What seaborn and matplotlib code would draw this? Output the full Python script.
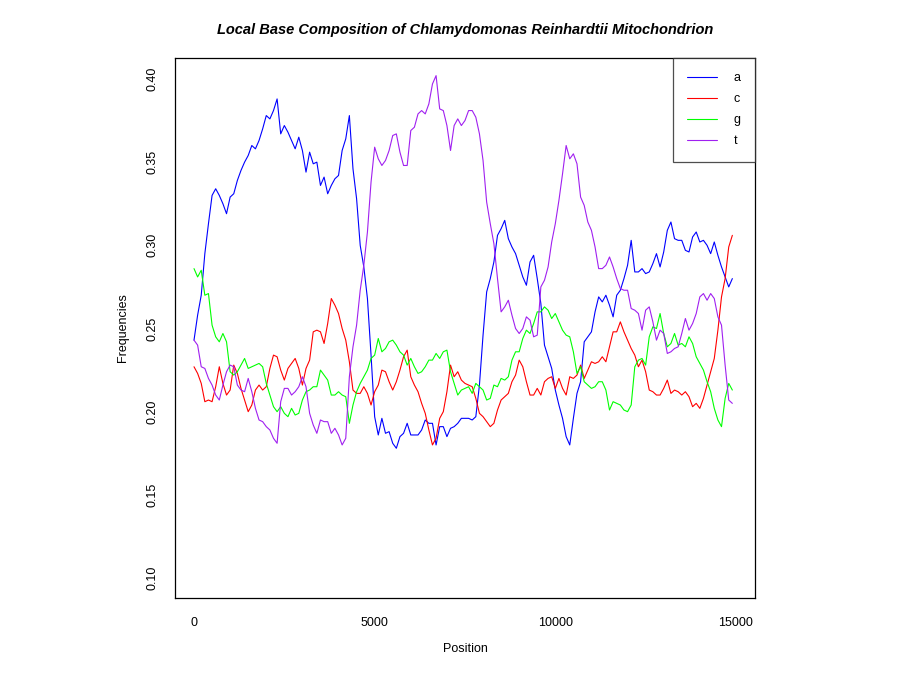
import numpy as np
import pandas as pd
import matplotlib
matplotlib.use("Agg")
import matplotlib.pyplot as plt
import seaborn as sns

sns.set_style("white")
plt.rcParams['font.family'] = ['Liberation Sans', 'DejaVu Sans']
plt.rcParams['text.color'] = 'black'

# ---- data ----
positions = np.arange(0, 15000, 100)
bases = ["a", "c", "g", "t"]
colors = ["#0000FF", "#FF0000", "#00FF00", "#A020F0"]

freq_a = [0.243, 0.258, 0.270, 0.295, 0.313, 0.330, 0.334, 0.330, 0.325, 0.319,
          0.329, 0.331, 0.339, 0.345, 0.350, 0.354, 0.360, 0.358, 0.363, 0.370,
          0.378, 0.376, 0.381, 0.388, 0.367, 0.372, 0.368, 0.363, 0.358, 0.365,
          0.357, 0.344, 0.356, 0.349, 0.350, 0.336, 0.341, 0.331, 0.336, 0.340,
          0.342, 0.357, 0.364, 0.378, 0.346, 0.328, 0.300, 0.287, 0.268, 0.234,
          0.197, 0.186, 0.196, 0.187, 0.188, 0.181, 0.178, 0.185, 0.187, 0.193,
          0.186, 0.186, 0.186, 0.189, 0.195, 0.193, 0.193, 0.180, 0.191, 0.191,
          0.185, 0.190, 0.191, 0.193, 0.196, 0.196, 0.196, 0.195, 0.197, 0.216,
          0.246, 0.272, 0.280, 0.290, 0.306, 0.310, 0.315, 0.304, 0.299, 0.295,
          0.288, 0.281, 0.276, 0.290, 0.294, 0.280, 0.265, 0.240, 0.233, 0.226,
          0.213, 0.204, 0.196, 0.185, 0.180, 0.196, 0.211, 0.218, 0.242, 0.245,
          0.248, 0.260, 0.269, 0.266, 0.270, 0.264, 0.257, 0.270, 0.273, 0.280,
          0.288, 0.303, 0.284, 0.284, 0.286, 0.283, 0.284, 0.289, 0.295, 0.287,
          0.296, 0.309, 0.314, 0.304, 0.303, 0.303, 0.297, 0.296, 0.305, 0.308,
          0.302, 0.303, 0.300, 0.295, 0.302, 0.294, 0.287, 0.281, 0.275, 0.280]

freq_c = [0.227, 0.223, 0.217, 0.206, 0.207, 0.206, 0.215, 0.227, 0.217, 0.210,
          0.213, 0.228, 0.223, 0.214, 0.207, 0.200, 0.204, 0.213, 0.216, 0.213,
          0.215, 0.226, 0.234, 0.233, 0.225, 0.219, 0.226, 0.229, 0.232, 0.226,
          0.216, 0.226, 0.231, 0.248, 0.249, 0.248, 0.241, 0.253, 0.268, 0.264,
          0.259, 0.250, 0.243, 0.230, 0.213, 0.211, 0.211, 0.215, 0.211, 0.204,
          0.212, 0.216, 0.225, 0.224, 0.218, 0.213, 0.218, 0.225, 0.233, 0.237,
          0.221, 0.216, 0.212, 0.205, 0.199, 0.189, 0.180, 0.184, 0.196, 0.200,
          0.212, 0.228, 0.221, 0.224, 0.219, 0.217, 0.216, 0.215, 0.208, 0.199,
          0.197, 0.194, 0.191, 0.193, 0.201, 0.207, 0.209, 0.211, 0.218, 0.222,
          0.231, 0.227, 0.218, 0.210, 0.210, 0.214, 0.210, 0.218, 0.220, 0.221,
          0.214, 0.220, 0.214, 0.210, 0.221, 0.220, 0.222, 0.228, 0.220, 0.225,
          0.230, 0.229, 0.230, 0.233, 0.230, 0.239, 0.248, 0.248, 0.254, 0.248,
          0.243, 0.238, 0.234, 0.227, 0.231, 0.224, 0.213, 0.212, 0.210, 0.210,
          0.214, 0.219, 0.211, 0.213, 0.212, 0.210, 0.212, 0.209, 0.203, 0.205,
          0.202, 0.208, 0.216, 0.224, 0.232, 0.249, 0.269, 0.280, 0.299, 0.306]

freq_g = [0.286, 0.281, 0.285, 0.270, 0.271, 0.252, 0.245, 0.242, 0.247, 0.242,
          0.224, 0.222, 0.224, 0.228, 0.232, 0.226, 0.227, 0.228, 0.229, 0.227,
          0.217, 0.210, 0.203, 0.200, 0.203, 0.199, 0.197, 0.202, 0.198, 0.199,
          0.207, 0.212, 0.213, 0.215, 0.215, 0.225, 0.222, 0.219, 0.210, 0.210,
          0.212, 0.210, 0.209, 0.193, 0.204, 0.212, 0.217, 0.221, 0.225, 0.232,
          0.234, 0.244, 0.236, 0.238, 0.242, 0.243, 0.240, 0.236, 0.234, 0.228,
          0.232, 0.227, 0.223, 0.224, 0.227, 0.231, 0.231, 0.235, 0.232, 0.236,
          0.237, 0.224, 0.217, 0.210, 0.213, 0.214, 0.215, 0.211, 0.217, 0.215,
          0.213, 0.207, 0.208, 0.216, 0.215, 0.220, 0.219, 0.221, 0.231, 0.236,
          0.236, 0.244, 0.249, 0.247, 0.253, 0.260, 0.260, 0.263, 0.261, 0.256,
          0.259, 0.254, 0.249, 0.246, 0.245, 0.236, 0.223, 0.227, 0.218, 0.216,
          0.214, 0.215, 0.218, 0.218, 0.213, 0.201, 0.206, 0.205, 0.204, 0.201,
          0.200, 0.204, 0.227, 0.231, 0.232, 0.228, 0.245, 0.251, 0.250, 0.259,
          0.247, 0.239, 0.241, 0.247, 0.240, 0.241, 0.239, 0.245, 0.241, 0.233,
          0.229, 0.225, 0.218, 0.212, 0.202, 0.195, 0.191, 0.208, 0.217, 0.213]

freq_t = [0.243, 0.240, 0.227, 0.226, 0.220, 0.216, 0.210, 0.207, 0.216, 0.224,
          0.228, 0.227, 0.216, 0.213, 0.212, 0.220, 0.212, 0.202, 0.195, 0.194,
          0.191, 0.189, 0.184, 0.181, 0.206, 0.214, 0.214, 0.210, 0.212, 0.215,
          0.221, 0.215, 0.199, 0.192, 0.187, 0.195, 0.194, 0.194, 0.187, 0.190,
          0.186, 0.180, 0.184, 0.221, 0.239, 0.252, 0.273, 0.288, 0.308, 0.338,
          0.359, 0.352, 0.348, 0.351, 0.357, 0.366, 0.367, 0.356, 0.348, 0.348,
          0.369, 0.371, 0.379, 0.381, 0.379, 0.385, 0.397, 0.402, 0.382, 0.381,
          0.372, 0.357, 0.372, 0.376, 0.372, 0.375, 0.381, 0.381, 0.377, 0.367,
          0.351, 0.326, 0.313, 0.301, 0.280, 0.260, 0.263, 0.267, 0.258, 0.250,
          0.247, 0.250, 0.257, 0.255, 0.245, 0.246, 0.275, 0.279, 0.287, 0.302,
          0.313, 0.327, 0.343, 0.360, 0.352, 0.355, 0.349, 0.329, 0.324, 0.314,
          0.309, 0.299, 0.286, 0.286, 0.288, 0.293, 0.287, 0.280, 0.274, 0.273,
          0.273, 0.262, 0.261, 0.259, 0.249, 0.261, 0.263, 0.254, 0.243, 0.249,
          0.247, 0.235, 0.236, 0.238, 0.239, 0.247, 0.256, 0.249, 0.253, 0.259,
          0.269, 0.271, 0.267, 0.271, 0.268, 0.257, 0.252, 0.228, 0.207, 0.205]

x_ticks = [0, 5000, 10000, 15000]
y_ticks = [0.10, 0.15, 0.20, 0.25, 0.30, 0.35, 0.40]
y_tick_labels = ["0.10", "0.15", "0.20", "0.25", "0.30", "0.35", "0.40"]
title = "Local Base Composition of Chlamydomonas Reinhardtii Mitochondrion"

# ---- build long table ----
df = pd.DataFrame({
    "Position": np.tile(positions, 4),
    "Frequency": np.concatenate([freq_a, freq_c, freq_g, freq_t]),
    "base": np.repeat(bases, len(positions)),
})

fig = plt.figure(figsize=(9, 6.8), dpi=100)
ax = fig.add_axes([175/900, 82/680, 580/900, 540/680])

sns.lineplot(data=df, x="Position", y="Frequency", hue="base",
             palette=dict(zip(bases, colors)), linewidth=0.8,
             estimator=None, ax=ax, legend=True)

ax.set_xlim(-526, 15527)
ax.set_ylim(0.088, 0.4126)
ax.set_xticks(x_ticks)
ax.set_xticklabels([str(v) for v in x_ticks])
ax.set_yticks(y_ticks)
ax.set_yticklabels(y_tick_labels, rotation=90, va="center")
ax.tick_params(axis="both", direction="out", length=5, width=0.8,
               color="black", labelsize=9, labelcolor="black")
ax.tick_params(axis="x", pad=9)
ax.tick_params(axis="y", pad=7)
ax.set_xlabel("")
ax.set_ylabel("")
for sp in ax.spines.values():
    sp.set_color("black")
    sp.set_linewidth(0.9)

fig.text(465/900, 1 - 30/680, title, ha="center", va="center",
         fontsize=10.5, fontweight="bold", fontstyle="italic", color="black")
fig.text(465/900, 1 - 649/680, "Position", ha="center", va="center",
         fontsize=9, color="black")
fig.text(123/900, 1 - 328/680, "Frequencies", ha="center", va="center",
         rotation=90, fontsize=9, color="black")

handles, labels = ax.get_legend_handles_labels()
leg = ax.legend(handles, labels, loc="upper right", borderaxespad=0,
                fontsize=9, frameon=True, fancybox=False,
                handlelength=2.4, handletextpad=1.3, labelspacing=0.72,
                borderpad=1.15)
leg.get_frame().set_edgecolor("#222222")
leg.get_frame().set_linewidth(0.9)
for t in leg.get_texts():
    t.set_color("black")
for h in leg.get_lines():
    h.set_linewidth(0.8)

fig.savefig("out.png", dpi=100)
